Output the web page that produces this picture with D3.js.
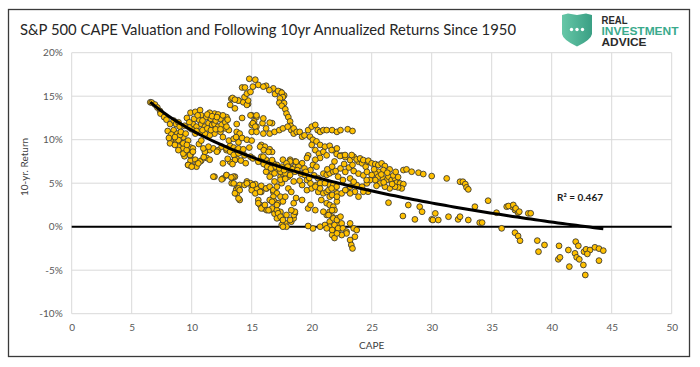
<!DOCTYPE html>
<html><head><meta charset="utf-8">
<script src="https://cdn.jsdelivr.net/npm/d3@7"></script>
<style>
html,body{margin:0;padding:0;background:#fff;}
svg{display:block;}
</style></head>
<body>
<svg id="chart" width="700" height="367"></svg>
<script>
// ---------------- DATA ----------------
const chartTitle = "S&P 500 CAPE Valuation and Following 10yr Annualized Returns Since 1950";
const xAxisTitle = "CAPE";
const yAxisTitle = "10-yr. Return";
const r2Label = "R² = 0.467";
const xTickValues = [0,5,10,15,20,25,30,35,40,45,50];
const yTickValues = [-10,-5,0,5,10,15,20];
const logoLines = ["REAL","INVESTMENT","ADVICE"];

// CAPE (x) and following 10-yr annualized return in % (y)
const cape = [
6.55,6.67,6.94,7.14,7.36,7.4,7.7,7.9,8.2,8.5,8.7,8.9,9.0,8.5,8.8,8.3,8.75,9.2,8.9,9.3,9.6,9.9,9.4,9.9,10.3,9.9,10.4,10.8,11.25,11.5,11.1,11.8,12.2,12.5,12.9,13.2,13.5,13.75,
9.9,10.3,10.7,10.8,10.6,10.1,10.4,10.8,11.1,11.4,11.7,11.9,12.2,12.5,12.8,13.1,12.4,11.9,11.5,11.1,10.7,10.3,12.6,13.1,13.5,9.7,9.3,9.0,13.3,13.2,13.6,13.9,13.75,13.75,13.9,13.75,9.9,10.1,10.6,10.8,
11.2,11.6,12.0,12.4,12.8,11.9,11.5,12.2,12.9,
8.19,8.89,9.3,9.7,10.4,10.7,11.0,11.5,11.9,12.6,12.9,13.6,13.75,14.0,13.75,14.6,15.0,15.4,15.8,16.25,16.8,15.55,15.7,16.0,16.5,16.9,17.4,17.5,17.8,17.5,17.9,17.1,
14.8,15.3,14.2,15.1,16.2,16.8,17.4,17.7,13.4,13.9,14.5,14.7,14.3,15.0,15.4,15.2,15.0,15.4,15.9,16.7,14.2,
14.44,15.55,15.97,16.47,16.94,17.2,17.5,17.6,17.35,17.3,17.7,17.5,17.8,17.9,18.05,18.2,18.25,18.3,18.5,13.6,14.6,14.7,14.4,14.6,14.9,
14.9,15.4,15.97,15.1,15.3,15.0,15.4,16.2,16.5,15.97,16.5,16.9,17.3,17.6,18.0,18.5,18.75,19.0,14.0,13.7,14.2,14.6,15.0,15.8,16.1,16.5,16.7,
19.2,19.4,19.7,20.0,20.3,20.5,20.7,20.97,21.25,21.7,22.1,22.4,19.86,20.1,20.4,20.7,21.1,21.5,21.8,22.1,20.0,20.3,20.6,20.97,21.25,20.7,20.3,19.7,19.6,20.1,
13.9,14.2,14.4,14.9,15.7,16.0,16.4,15.8,16.2,16.7,17.1,17.6,18.2,18.6,18.7,
15.83,16.2,16.8,16.7,17.1,17.4,17.6,18.05,18.3,18.6,18.9,19.2,19.4,19.9,20.4,20.97,21.25,18.05,18.2,
13.47,13.33,13.7,13.6,14.0,14.4,14.9,15.3,15.0,15.8,16.2,16.5,16.8,17.1,17.5,17.4,17.1,17.4,16.8,16.5,16.9,17.2,17.6,17.8,18.05,18.3,18.7,19.2,18.5,
15.55,15.97,16.25,16.7,17.1,17.2,17.4,17.6,18.3,18.6,18.5,17.9,
19.7,19.9,20.3,20.8,21.25,21.5,21.8,22.1,21.9,21.5,21.25,21.7,22.1,21.5,21.1,20.7,20.1,19.7,21.5,21.8,22.1,22.2,21.7,21.9,
19.6,20.0,20.4,20.7,20.55,20.97,21.25,21.5,22.1,21.9,21.5,21.1,
20.97,21.4,21.7,21.8,22.1,22.4,22.5,21.9,22.2,22.6,22.9,23.2,23.5,23.75,23.6,23.2,23.3,22.9,22.5,22.1,21.7,21.25,23.4,
11.8,12.5,12.9,13.3,13.5,13.9,13.9,14.0,14.6,15.1,15.3,15.7,15.8,16.1,16.4,16.7,17.1,17.6,18.2,18.5,18.6,18.3,
19.2,19.6,19.9,20.3,20.7,21.4,21.8,21.7,22.1,22.5,22.9,23.2,23.5,23.75,24.2,24.6,24.7,24.3,23.9,
22.5,22.8,23.2,23.5,23.9,24.2,24.5,24.7,
8.6,8.9,9.3,9.58,9.86,10.55,10.1,10.97,11.4,12.1,12.9,13.2,13.5,13.9,13.6,13.2,12.6,9.7,10.0,
15.1,15.55,15.97,16.4,16.7,17.5,17.9,18.2,17.4,17.8,18.2,18.6,18.9,18.7,19.4,16.9,16.5,16.2,
21.66,22.08,22.36,22.78,23.33,23.75,24.03,24.3,24.72,25.0,25.3,25.55,25.83,26.1,26.5,25.97,25.55,25.3,25.0,25.55,25.97,26.25,26.4,26.66,26.94,27.08,27.36,27.64,27.5,27.2,26.94,26.5,26.1,25.7,25.3,24.86,24.58,
27.64,27.9,28.33,28.9,29.3,30.0,31.25,32.36,32.6,32.8,32.9,33.05,
21.5,21.8,22.2,22.6,23.2,23.5,23.6,23.2,22.8,22.08,21.66,23.0,23.4,
26.4,28.05,29.0,29.2,27.6,28.6,30.0,30.3,30.1,30.55,31.4,32.2,32.36,33.05,34.0,34.7,33.6,
35.4,36.25,36.7,36.94,37.2,38.05,35.83,36.94,37.2,37.36,
36.4,36.8,37.0,37.3,38.25,34.2,38.8,39.4,38.9,
40.61,42.0,42.22,41.39,41.94,42.08,42.3,42.69,42.86,43.19,43.6,43.94,44.3,42.97,40.55,40.69,41.47,42.64,43.94,42.8,
9.6,9.8,10.2,10.5,10.9,11.3,11.7,12.1,12.6,13.0,10.0,10.4,10.9,11.3,11.6,12.0,12.4,12.9,9.4,9.8,
8.0,8.3,8.6,9.1,9.5,8.1,9.6,
16.0,16.3,16.6,17.0,17.3,17.7,18.0,18.4,18.8,19.1,19.5,19.8,20.2,20.5,16.9,17.8,18.5,19.0,
21.3,21.7,22.0,22.4,22.8,23.1,23.5,23.9,24.3,24.6,21.9,22.7,23.4,
25.2,25.8,26.3,26.8,27.2,26.0,26.7,27.0,25.4,
13.0,13.4,14.1,14.5,14.3,14.8
];
const tenYrReturn = [
14.3,14.27,14.04,13.7,13.3,13.0,12.6,12.3,11.8,12.2,11.8,12.0,11.5,11.1,10.7,9.7,9.9,9.6,9.2,9.0,8.6,9.1,8.1,7.6,7.7,7.0,7.2,7.6,7.9,8.8,8.6,9.0,8.8,9.2,8.8,9.3,9.1,8.8,
13.1,13.2,13.4,12.8,12.3,11.8,11.5,11.8,11.5,11.9,11.7,11.8,11.5,11.7,11.3,11.1,10.9,10.7,10.5,10.7,10.9,10.7,10.3,9.9,10.1,9.9,10.3,10.5,14.7,14.0,13.6,14.5,11.8,10.9,9.7,7.8,8.2,9.0,9.5,9.9,
12.6,12.4,12.2,12.4,12.0,13.0,13.1,12.9,12.6,
9.58,8.8,8.4,7.1,6.9,7.5,8.0,7.7,5.75,5.55,5.9,5.75,4.4,4.8,3.8,5.2,4.6,4.4,4.7,4.4,4.0,3.07,2.5,2.1,1.9,1.5,1.7,0.96,0.4,0.2,0.0,0.96,
17.0,16.9,16.0,16.1,16.2,15.9,15.5,15.1,14.8,14.5,14.4,14.1,14.3,12.8,12.6,12.1,11.7,11.5,11.9,11.9,12.5,
16.0,16.3,16.1,15.7,15.25,15.6,15.4,14.9,14.75,14.25,14.2,13.9,13.5,13.0,12.6,12.1,11.6,11.1,10.7,14.6,14.0,14.5,14.9,15.3,15.5,
12.8,12.8,12.45,11.9,11.5,10.9,10.9,11.3,11.96,10.7,10.7,10.9,11.1,11.3,11.5,11.3,10.9,10.9,10.7,10.3,10.2,10.0,9.9,9.4,9.2,8.9,8.6,
10.35,10.5,11.1,11.5,11.7,11.1,10.9,11.1,11.1,11.1,10.9,11.1,10.35,10.0,9.8,9.4,9.2,9.3,8.8,9.0,9.4,8.8,8.4,8.6,8.2,7.9,7.7,8.2,7.9,7.1,
9.0,8.6,8.2,8.05,9.2,8.8,8.6,8.05,7.7,7.5,7.1,7.7,7.7,7.5,7.1,
7.5,7.1,7.3,6.1,6.5,5.75,6.1,5.75,6.3,6.9,7.1,7.3,5.95,6.5,6.9,6.1,5.95,7.1,7.5,
5.75,5.0,4.2,3.84,3.07,4.8,5.0,4.9,4.2,4.0,4.4,4.6,4.2,4.6,5.0,5.4,3.84,3.45,3.45,3.07,2.9,2.7,2.9,3.45,4.4,4.0,3.3,3.07,2.7,
2.7,2.3,1.9,2.1,1.9,1.54,1.15,0.77,0.58,1.54,0.96,1.35,
2.1,2.5,1.9,3.07,2.7,2.5,2.3,2.9,1.9,1.73,1.35,1.15,0.96,0.58,0.2,0.0,-0.2,0.08,0.0,-0.38,0.2,-0.57,-0.95,-1.3,
4.2,4.4,4.8,5.0,4.0,3.84,4.0,3.45,3.84,4.4,4.8,5.0,
1.72,1.34,1.9,0.96,0.77,1.15,0.38,0.19,-0.19,-0.19,-0.57,0.38,-0.19,-0.38,-1.15,-1.53,-2.1,-0.77,-0.96,-0.77,-0.38,-0.19,-2.5,
5.75,5.44,5.94,5.67,4.98,4.4,3.25,4.2,4.98,4.79,3.83,4.0,2.1,2.5,1.9,2.87,2.5,0.0,0.77,1.34,1.72,1.9,
4.79,5.36,4.98,4.6,4.4,4.21,4.79,3.64,3.45,3.83,4.21,4.6,4.98,4.79,4.6,4.98,4.02,4.02,3.45,
8.2,8.0,7.66,8.04,7.47,7.28,6.9,7.47,
9.4,9.96,9.58,8.81,8.24,7.28,8.62,9.0,9.2,8.62,9.0,8.62,8.24,8.43,7.66,7.47,7.28,7.09,6.9,
7.85,7.47,8.04,7.28,7.66,6.9,7.28,6.7,6.32,6.13,5.94,6.32,6.9,7.47,6.7,6.13,5.75,6.32,
8.81,8.35,8.12,8.24,8.24,7.74,7.85,7.66,7.59,7.28,7.2,7.09,7.28,6.97,6.59,6.51,6.32,6.13,5.94,5.75,5.55,5.36,5.75,5.36,5.55,5.06,4.98,4.9,4.4,4.52,4.6,4.4,4.6,4.98,5.36,5.36,5.36,
6.51,6.59,6.32,6.21,6.05,5.82,5.55,5.17,5.17,4.9,4.52,4.29,
6.13,6.32,5.75,5.36,5.55,5.17,4.02,3.83,4.21,4.6,4.4,11.2,11.0,
2.76,2.49,2.3,1.72,1.23,0.84,0.84,1.53,0.77,0.77,1.15,0.84,1.15,0.77,0.46,2.99,2.3,
1.61,2.3,2.3,1.92,1.61,1.53,-0.19,-0.69,-1.07,-1.61,
2.38,2.5,2.11,1.73,1.54,0.47,-1.6,-2.1,-2.87,
-2.2,-1.72,-2.2,-2.68,-3.06,-3.52,-3.75,-2.87,-2.6,-2.68,-2.37,-2.52,-2.75,-3.13,-3.75,-3.52,-4.59,-4.4,-3.9,-5.55,
12.5,12.0,12.4,12.8,12.2,12.9,12.7,12.6,12.8,12.3,11.2,11.0,11.1,11.3,11.1,11.2,11.2,11.5,11.6,11.4,
11.0,10.6,10.3,10.9,10.7,10.2,9.4,
7.2,6.9,6.7,6.9,6.7,6.5,6.9,6.6,6.5,6.1,6.3,5.6,5.9,5.6,5.2,5.5,5.2,5.3,
6.6,6.9,6.4,6.7,6.3,6.8,6.4,6.1,5.9,6.3,7.5,7.2,7.1,
6.6,6.0,6.2,5.9,5.7,5.1,4.9,6.3,4.7,
7.8,7.2,7.6,7.3,8.9,9.1
];

// ---------------- DRAW ----------------
const svg = d3.select("#chart");
const W = 700, H = 367;
const plot = {left: 71.7, right: 671.7, top: 52.7, bottom: 313.7};
const fontMain = "Lato, 'Open Sans', 'Noto Sans', sans-serif";

svg.append("rect").attr("width", W).attr("height", H).attr("fill", "#fff");
// outer frame
svg.append("rect").attr("x", 8.5).attr("y", 9.5).attr("width", 681).attr("height", 347)
  .attr("fill", "none").attr("stroke", "#3a3a3a").attr("stroke-width", 1.3);

const x = d3.scaleLinear().domain([0, 50]).range([plot.left, plot.right]);
const y = d3.scaleLinear().domain([-10, 20]).range([plot.bottom, plot.top]);

// gridlines
const g = svg.append("g");
g.selectAll("line.vg").data(xTickValues).join("line").attr("class","vg")
  .attr("x1", d => x(d)).attr("x2", d => x(d)).attr("y1", y(20)).attr("y2", y(-10))
  .attr("stroke", "#d9d9d9").attr("stroke-width", 1);
g.selectAll("line.hg").data(yTickValues).join("line").attr("class","hg")
  .attr("x1", x(0)).attr("x2", x(50)).attr("y1", d => y(d)).attr("y2", d => y(d))
  .attr("stroke", "#d9d9d9").attr("stroke-width", 1);

// zero line
svg.append("line").attr("x1", x(0)).attr("x2", x(50)).attr("y1", y(0)).attr("y2", y(0))
  .attr("stroke", "#000").attr("stroke-width", 2);

// axes labels
const xAxis = d3.axisBottom(x).tickValues(xTickValues).tickSize(0).tickPadding(9);
const xg = svg.append("g").attr("transform", `translate(0,${plot.bottom + 1})`).call(xAxis);
xg.select(".domain").remove();
xg.selectAll("text").attr("font-family", fontMain).attr("font-size", 10).attr("fill", "#595959");

const yAxis = d3.axisLeft(y).tickValues(yTickValues).tickSize(0).tickPadding(9).tickFormat(d => d + "%");
const yg = svg.append("g").attr("transform", `translate(${plot.left},0)`).call(yAxis);
yg.select(".domain").remove();
yg.selectAll("text").attr("font-family", fontMain).attr("font-size", 10).attr("fill", "#595959");

// axis titles
svg.append("text").attr("x", x(25)).attr("y", 349).attr("text-anchor", "middle")
  .attr("font-family", fontMain).attr("font-size", 10).attr("fill", "#404040").text(xAxisTitle);
svg.append("text").attr("transform", "translate(28,167) rotate(-90)").attr("text-anchor", "middle")
  .attr("font-family", fontMain).attr("font-size", 10).attr("fill", "#404040").text(yAxisTitle);

// points
const pts = cape.map((c, i) => ({c, r: tenYrReturn[i]}));
svg.append("g").selectAll("circle").data(pts).join("circle")
  .attr("cx", d => x(d.c)).attr("cy", d => y(d.r)).attr("r", 2.9)
  .attr("fill", "#FFC000").attr("stroke", "#333").attr("stroke-width", 0.85);

// logarithmic least-squares trendline computed from the data
const lx = pts.map(p => Math.log(p.c));
const mx = d3.mean(lx), my = d3.mean(pts, p => p.r);
let sxy = 0, sxx = 0;
pts.forEach((p, i) => { sxy += (lx[i] - mx) * (p.r - my); sxx += (lx[i] - mx) ** 2; });
const slope = sxy / sxx, intercept = my - slope * mx;
const [cmin, cmax] = d3.extent(cape);
const trendPts = d3.range(0, 101).map(k => {
  const c = cmin + (cmax - cmin) * k / 100;
  return [c, intercept + slope * Math.log(c)];
});
svg.append("path").datum(trendPts)
  .attr("d", d3.line().x(d => x(d[0])).y(d => y(d[1])))
  .attr("fill", "none").attr("stroke", "#000").attr("stroke-width", 3).attr("stroke-linecap", "butt");

// R2 label
svg.append("text").attr("x", 557).attr("y", 201).attr("font-family", fontMain)
  .attr("font-size", 10).attr("font-weight", "bold").attr("fill", "#1a1a1a").text(r2Label);

// title
svg.append("text").attr("x", 20).attr("y", 34.5).attr("font-family", fontMain)
  .attr("font-size", 16).attr("fill", "#262626")
  .attr("textLength", 496).attr("lengthAdjust", "spacingAndGlyphs").text(chartTitle);

// logo
const defs = svg.append("defs");
const grad = defs.append("linearGradient").attr("id", "shieldGrad").attr("x1", "0").attr("x2", "1").attr("y1", "0").attr("y2", "0");
grad.append("stop").attr("offset", "0%").attr("stop-color", "#66c7a7");
grad.append("stop").attr("offset", "100%").attr("stop-color", "#3a9f84");
svg.append("path")
  .attr("d", "M562,15 L568,13.5 L577,15 L586,13.5 L592,15 L592,34 Q591,40 577,46.5 Q563,40 562,34 Z")
  .attr("fill", "url(#shieldGrad)");
svg.append("g").selectAll("circle").data([-5.5, 0, 5.5]).join("circle")
  .attr("cx", d => 577 + d).attr("cy", 29.5).attr("r", 1.7).attr("fill", "#fff");
const logoY = [23.5, 35, 46];
const logoCol = ["#2b2b2b", "#3aaa8c", "#2b2b2b"];
const logoW = [26, 77, 45];
svg.append("g").selectAll("text").data(logoLines).join("text")
  .attr("x", 601.5).attr("y", (d, i) => logoY[i])
  .attr("font-family", "'Liberation Sans', Arial, sans-serif").attr("font-size", 11.5)
  .attr("font-weight", "bold")
  .attr("fill", (d, i) => logoCol[i])
  .attr("textLength", (d, i) => logoW[i]).attr("lengthAdjust", "spacingAndGlyphs")
  .text(d => d);
</script>
</body></html>
